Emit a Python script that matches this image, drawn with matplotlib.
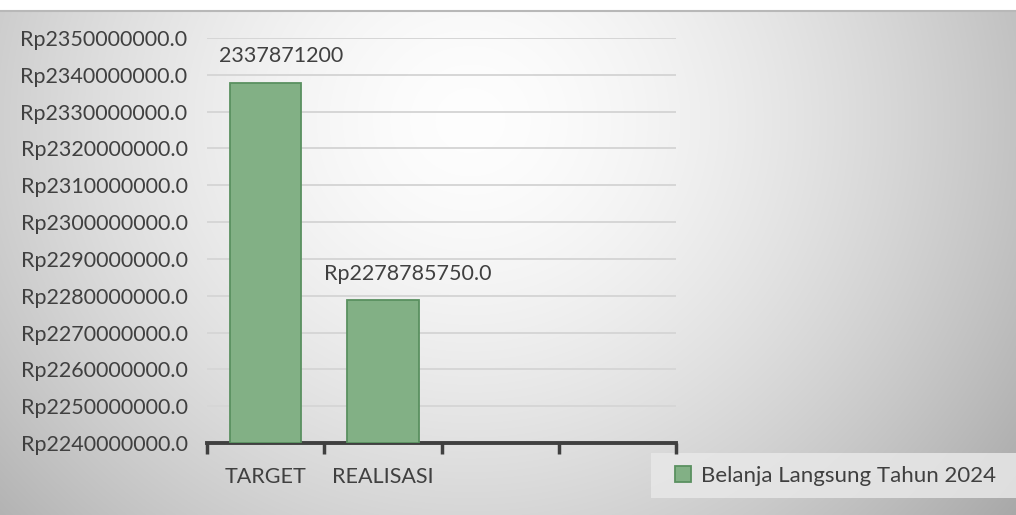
import numpy as np
import matplotlib
matplotlib.use("Agg")
import matplotlib.pyplot as plt
from matplotlib.ticker import FuncFormatter, FixedLocator
from matplotlib.patches import Rectangle

categories = ["TARGET", "REALISASI", "", ""]
values = [2337871200, 2278785750, None, None]
value_labels = ["2337871200", "Rp2278785750.0"]
series_name = "Belanja Langsung Tahun 2024"
y_min, y_max, y_step = 2240000000, 2350000000, 10000000

W, H = 1016, 515
fig = plt.figure(figsize=(W / 100, H / 100), dpi=100)
plt.rcParams['font.family'] = ['Lato', 'DejaVu Sans']
FS = 15.5
TXT = '#404040'

# background gradient
bg = fig.add_axes([0, 0, 1, 1], zorder=-10)
yy, xx = np.mgrid[0:H, 0:W]
cx, cy = 470, 120
r = np.sqrt(((xx - cx) / 560.0) ** 2 + ((yy - cy) / 520.0) ** 2)
val = np.clip(0.995 - 0.24 * r ** 1.6, 0, 1)
img = np.dstack([val, val, val])
img[:10, :, :] = 1.0
bg.imshow(img, extent=[0, W, H, 0], aspect='auto', interpolation='bilinear')
bg.plot([0, W], [10.5, 10.5], color='#b8b8b8', lw=1.5)
bg.add_patch(Rectangle((651, 453), W - 651, 45, facecolor='#e8e8e8',
                       edgecolor='none', alpha=0.85))
bg.set_xlim(0, W)
bg.set_ylim(H, 0)
bg.axis('off')

ax = fig.add_axes([207 / W, 1 - 443 / H, (676 - 207) / W, (443 - 38) / H])
ax.patch.set_alpha(0)
x = np.arange(len(categories))
bar_x = [i for i, v in enumerate(values) if v is not None]
bar_v = [v for v in values if v is not None]
heights = [v - y_min for v in bar_v]
bars = ax.bar(bar_x, heights, bottom=y_min, width=0.61, color='#82b085',
              edgecolor='#5a9060', linewidth=1.3, label=series_name, zorder=3)
ax.set_xlim(-0.5, len(categories) - 0.5)
ax.set_ylim(y_min, y_max)
ax.set_yticks(np.arange(y_min, y_max + 1, y_step))
ax.yaxis.set_major_formatter(FuncFormatter(lambda v, p: f"Rp{v:.1f}"))
ax.grid(axis='y', color='#d6d6d6', lw=1.4, zorder=0)
ax.tick_params(axis='y', length=0, pad=14, labelsize=FS, labelcolor=TXT)

ax.xaxis.set_major_locator(FixedLocator(np.arange(-0.5, len(categories), 1.0)))
ax.xaxis.set_major_formatter(FuncFormatter(lambda v, p: ""))
ax.xaxis.set_minor_locator(FixedLocator(x))
ax.set_xticklabels(categories, minor=True)
ax.tick_params(axis='x', which='major', length=8, width=2.5, color=TXT, direction='out')
ax.tick_params(axis='x', which='minor', length=0, pad=17, labelsize=FS, labelcolor=TXT)

for s in ['top', 'right', 'left']:
    ax.spines[s].set_visible(False)
ax.spines['bottom'].set_color(TXT)
ax.spines['bottom'].set_linewidth(2.8)
ax.spines['bottom'].set_capstyle('projecting')

label_dx = [11, 18]
for xi, v, lab, dx in zip(bar_x, bar_v, value_labels, label_dx):
    ax.annotate(lab, (xi, v), xytext=(dx, 19), textcoords='offset points',
                ha='center', va='center', fontsize=FS, color=TXT)

leg = fig.legend(handles=[bars], labels=[series_name], loc='center left',
                 bbox_to_anchor=(668 / W, 1 - 476 / H), fontsize=16,
                 frameon=False, borderpad=0.3, borderaxespad=0,
                 handlelength=0.75, handleheight=0.75, handletextpad=0.45,
                 labelcolor=TXT)

fig.savefig("out.png", dpi=100)
